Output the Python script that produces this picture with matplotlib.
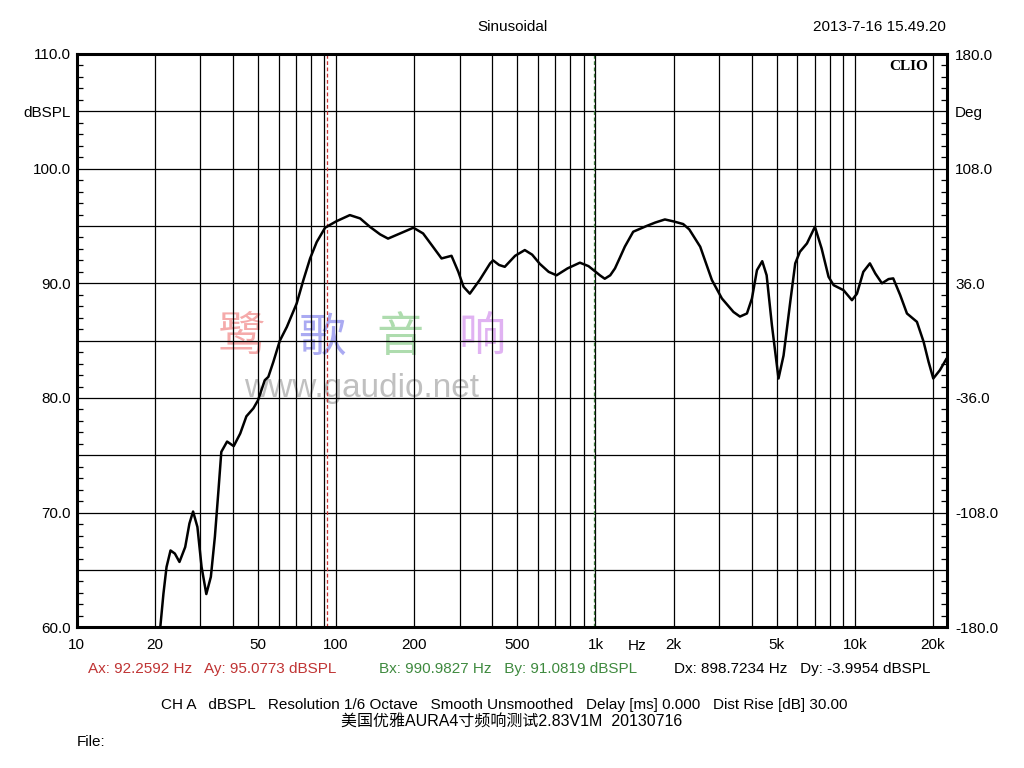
import matplotlib
matplotlib.use("Agg")
import matplotlib.pyplot as plt
from matplotlib.ticker import FixedLocator, FixedFormatter, NullFormatter

plt.rcParams['font.family'] = ['Liberation Sans', 'Noto Sans CJK SC', 'DejaVu Sans']

# ---- data ----
freq_hz = [21.0, 21.6, 22.2, 23.0, 23.9, 24.9, 26.2, 27.2, 28.1, 29.2, 30.3, 31.6,
           32.9, 34.1, 35.2, 36.1, 38.0, 40.3, 42.7, 45.1, 48.0, 50.0, 53.1, 54.8,
           57.3, 60.7, 64.6, 70.5, 74.8, 79.4, 84.2, 90.7, 100, 113, 123.8, 135,
           147.8, 158.6, 176.5, 198.6, 216.5, 233.8, 255, 278.6, 296, 310, 327.8,
           358, 392.6, 403, 425, 447, 490, 534, 570, 610, 660, 708, 780, 871, 940,
           1002, 1040, 1086, 1140, 1189, 1240, 1298, 1398, 1574, 1700, 1852, 2000,
           2178, 2300, 2534, 2812, 3072, 3405, 3606, 3837, 4011, 4194, 4395, 4570,
           4789, 5078, 5310, 5636, 5891, 6139, 6537, 7015, 7446, 7917, 8280, 9045,
           9745, 10190, 10780, 11430, 11990, 12720, 13490, 14060, 14960, 15880,
           17350, 18410, 19240, 20060, 21280, 22590]
spl_db = [60.0, 62.94, 65.26, 66.7, 66.43, 65.7, 67.0, 69.05, 70.1, 68.75, 65.26, 62.9,
          64.4, 67.9, 71.95, 75.3, 76.2, 75.8, 76.9, 78.4, 79.1, 79.8, 81.55, 81.84,
          83.15, 85.0, 86.2, 88.25, 90.28, 92.17, 93.6, 94.85, 95.4, 95.95, 95.66, 94.93,
          94.27, 93.9, 94.35, 94.85, 94.35, 93.33, 92.17, 92.4, 91.0, 89.7, 89.1,
          90.3, 91.74, 92.0, 91.6, 91.44, 92.4, 92.9, 92.5, 91.7, 91.0, 90.7, 91.3, 91.8, 91.5,
          91.0, 90.7, 90.4, 90.7, 91.3, 92.2, 93.2, 94.5, 95.0, 95.3, 95.57, 95.4,
          95.17, 94.7, 93.19, 90.28, 88.68, 87.5, 87.1, 87.37, 88.68, 91.15, 91.93, 90.7,
          86.35, 81.7, 83.7, 88.38, 91.74, 92.75, 93.48, 94.93, 93.04, 90.57, 89.84, 89.4,
          88.53, 89.1, 91.0, 91.74, 90.86, 90.0, 90.37, 90.43, 88.97, 87.37,
          86.64, 84.9, 83.15, 81.7, 82.43, 83.45]

x_tick_vals = [10, 20, 50, 100, 200, 500, 1000, 2000, 5000, 10000, 20000]
x_tick_labels = ['10', '20', '50', '100', '200', '500', '1k', '2k', '5k', '10k', '20k']
x_grid_vals = [10, 20, 30, 40, 50, 60, 70, 80, 90,
               100, 200, 300, 400, 500, 600, 700, 800, 900,
               1000, 2000, 3000, 4000, 5000, 6000, 7000, 8000, 9000, 10000, 20000]
y_tick_vals = [60, 65, 70, 75, 80, 85, 90, 95, 100, 105, 110]
y_left_labels = ['60.0', '', '70.0', '', '80.0', '', '90.0', '', '100.0', 'dBSPL', '110.0']
y_right_labels = ['-180.0', '', '-108.0', '', '-36.0', '', '36.0', '', '108.0', 'Deg', '180.0']

cursor_a_hz = 92.2592
cursor_b_hz = 990.9827

FS = 11

# ---- figure ----
W, H = 1024, 768
fig = plt.figure(figsize=(W / 100, H / 100), dpi=100)
ax_l, ax_r, ax_t, ax_b = 76.7, 946.7, 54.0, 627.3
ax = fig.add_axes([ax_l / W, 1 - ax_b / H, (ax_r - ax_l) / W, (ax_b - ax_t) / H])
ax.set_xscale('log')
ax.set_xlim(10, 22600)
ax.set_ylim(60, 110)

axr = ax.twinx()
axr.set_ylim(60, 110)
axr.yaxis.set_major_locator(FixedLocator(y_tick_vals))
axr.yaxis.set_major_formatter(FixedFormatter(y_right_labels))
axr.yaxis.set_minor_locator(FixedLocator([]))
axr.tick_params(axis='y', which='both', length=0, labelsize=FS, pad=6)
for s in axr.spines.values():
    s.set_visible(False)

# grid
ax.xaxis.set_major_locator(FixedLocator(x_tick_vals))
ax.xaxis.set_major_formatter(FixedFormatter(x_tick_labels))
ax.xaxis.set_minor_locator(FixedLocator(x_grid_vals))
ax.xaxis.set_minor_formatter(NullFormatter())
ax.grid(True, axis='x', which='both', color='black', lw=0.9)
ax.yaxis.set_major_locator(FixedLocator(y_tick_vals))
ax.yaxis.set_major_formatter(FixedFormatter(y_left_labels))
ax.yaxis.set_minor_locator(FixedLocator([v for v in range(60, 111) if v % 5 != 0]))
ax.grid(True, axis='y', which='major', color='black', lw=0.9)
ax.tick_params(axis='x', which='both', length=0, pad=8, labelsize=FS)
ax.tick_params(axis='y', which='both', direction='in', left=True, right=True,
               labelleft=True, labelright=False,
               labelsize=FS, pad=4, color='black', width=0.9)
ax.tick_params(axis='y', which='minor', length=4)
ax.tick_params(axis='y', which='major', length=0)
for s in ax.spines.values():
    s.set_linewidth(2.2)

# watermark
wm_chars = ['鹭', '歌', '音', '响']
wm_colors = ['#f5aaaa', '#aaaaf2', '#aedcae', '#e0b2f2']
wm_x = [241.7, 321.7, 400.0, 481.7]
for ch, c, xp in zip(wm_chars, wm_colors, wm_x):
    ax.text(xp / W, 1 - 338 / H, ch, transform=fig.transFigure, ha='center', va='center',
            fontsize=34, color=c, family=['Noto Sans CJK SC'], zorder=1)
ax.text(361.5 / W, 1 - 388 / H, 'www.gaudio.net', transform=fig.transFigure,
        ha='center', va='center', fontsize=24, color='#c0c0c0', zorder=1)

# cursors
ax.axvline(cursor_a_hz, color='#c83232', ls=(0, (3, 2)), lw=0.9, zorder=2)
ax.axvline(cursor_b_hz, color='#3c7a3c', ls=(0, (3, 2)), lw=0.9, zorder=2)

# curve
ax.plot(freq_hz, spl_db, color='black', lw=1.8, zorder=3,
        solid_joinstyle='round', solid_capstyle='round')

# CLIO label
ax.text(928 / W, 1 - 66 / H, 'CLIO', transform=fig.transFigure, ha='right', va='center',
        fontsize=11, fontweight='bold', family=['Liberation Serif'], zorder=4)

# Hz label
fig.text(637 / W, 1 - 646 / H, 'Hz', ha='center', va='center', fontsize=FS)

# header
fig.text(512 / W, 1 - 27 / H, 'Sinusoidal', ha='center', va='center', fontsize=FS)
fig.text(946 / W, 1 - 27 / H, '2013-7-16 15.49.20', ha='right', va='center', fontsize=FS)

# cursor readouts
fig.text(88 / W, 1 - 669 / H, 'Ax: 92.2592 Hz   Ay: 95.0773 dBSPL', ha='left', va='center',
         fontsize=FS, color='#c03434')
fig.text(379 / W, 1 - 669 / H, 'Bx: 990.9827 Hz   By: 91.0819 dBSPL', ha='left', va='center',
         fontsize=FS, color='#3f8a3f')
fig.text(674 / W, 1 - 669 / H, 'Dx: 898.7234 Hz   Dy: -3.9954 dBSPL', ha='left', va='center',
         fontsize=FS, color='black')

# footer
fig.text(504 / W, 1 - 705 / H,
         'CH A   dBSPL   Resolution 1/6 Octave   Smooth Unsmoothed   Delay [ms] 0.000   Dist Rise [dB] 30.00',
         ha='center', va='center', fontsize=FS)
fig.text(512 / W, 1 - 722 / H, '美国优雅AURA4寸频响测试2.83V1M  20130716',
         ha='center', va='center', fontsize=11.5)
fig.text(77 / W, 1 - 742 / H, 'File:', ha='left', va='center', fontsize=FS)

fig.savefig('out.png', dpi=100)
